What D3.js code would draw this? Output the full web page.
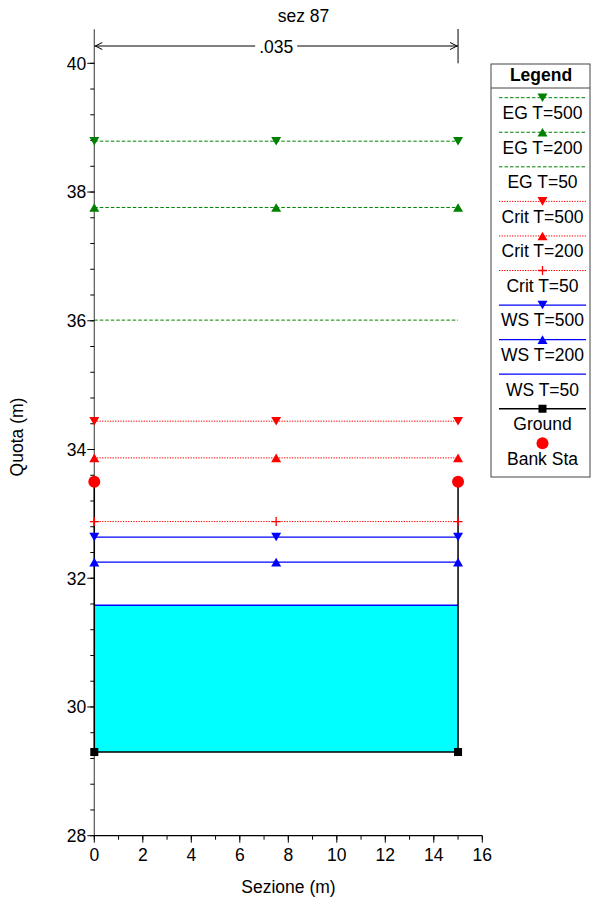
<!DOCTYPE html>
<html>
<head>
<meta charset="utf-8">
<script src="https://cdn.jsdelivr.net/npm/d3@7"></script>
<style>
  html, body { margin: 0; padding: 0; background: #fff; }
  svg { display: block; font-family: "Liberation Sans", Arial, sans-serif; }
</style>
</head>
<body>
<svg id="chart" width="591" height="901"></svg>
<script>
// ---- data ----
const title = "sez 87";
const xLabel = "Sezione (m)";
const yLabel = "Quota (m)";
const seriesNames = ["EG T=500", "EG T=200", "EG T=50", "Crit T=500", "Crit T=200", "Crit T=50", "WS T=500", "WS T=200", "WS T=50"];
const seriesElev  = [38.79, 37.76, 36.01, 34.44, 33.87, 32.88, 32.64, 32.25, 31.58];
const seriesKind  = ["EG", "EG", "EG", "Crit", "Crit", "Crit", "WS", "WS", "WS"];
const seriesMarker = ["down", "up", "none", "down", "up", "plus", "down", "up", "none"];
const lineStart = 0;
const lineEnd = 15;
const markerStations = [0, 7.5, 15];
const groundX = [0, 0, 15, 15];
const groundY = [33.50, 29.30, 29.30, 33.50];
const bankX = [0, 15];
const bankY = [33.50, 33.50];
const manningN = [".035"];
const manningFrom = [0];
const manningTo = [15];
const xTicks = [0, 2, 4, 6, 8, 10, 12, 14, 16];
const yTicks = [28, 30, 32, 34, 36, 38, 40];

// ---- styles ----
const kindStyle = {
  EG:   { color: "#008000", dash: "3.5,2", width: 1 },
  Crit: { color: "#ff0000", dash: "1.3,1.3", width: 1 },
  WS:   { color: "#0000ff", dash: null, width: 1.3 }
};

const svg = d3.select("#chart");
const x = d3.scaleLinear().domain([0, 16]).range([94.3, 482.3]);
const y = d3.scaleLinear().domain([28, 40]).range([835.7, 63.3]);
const FS = 17.5;

// water fill (WS T=50 over ground)
const wsLow = seriesElev[seriesNames.indexOf("WS T=50")];
const fillPts = [[groundX[1], wsLow], [groundX[2], wsLow], [groundX[2], groundY[2]], [groundX[1], groundY[1]]];
svg.append("path")
  .attr("d", d3.line().x(d => x(d[0])).y(d => y(d[1]))(fillPts) + "Z")
  .attr("fill", "#00ffff");

// axes
const gY = svg.append("g");
gY.append("line").attr("x1", x(0)).attr("x2", x(0)).attr("y1", y(28)).attr("y2", y(40.53))
  .attr("stroke", "#555").attr("stroke-width", 1.2);
const yMinor = d3.range(28, 40.01, 0.4);
gY.selectAll(".ym").data(yMinor).join("line")
  .attr("x1", x(0) - 4).attr("x2", x(0)).attr("y1", d => y(d)).attr("y2", d => y(d))
  .attr("stroke", "#000").attr("stroke-width", 1);
gY.selectAll(".yM").data(yTicks).join("line")
  .attr("x1", x(0) - 7).attr("x2", x(0)).attr("y1", d => y(d)).attr("y2", d => y(d))
  .attr("stroke", "#000").attr("stroke-width", 1);
gY.selectAll(".yl").data(yTicks).join("text")
  .attr("x", x(0) - 8).attr("y", d => y(d) + 6.4)
  .attr("text-anchor", "end").attr("font-size", FS).attr("fill", "#000")
  .text(d => d);

const gX = svg.append("g");
gX.append("line").attr("x1", x(0)).attr("x2", x(16)).attr("y1", y(28)).attr("y2", y(28))
  .attr("stroke", "#000").attr("stroke-width", 1.2);
gX.selectAll(".xm").data(d3.range(0, 16.01, 1)).join("line")
  .attr("x1", d => x(d)).attr("x2", d => x(d)).attr("y1", y(28)).attr("y2", y(28) + 4)
  .attr("stroke", "#000");
gX.selectAll(".xM").data(xTicks).join("line")
  .attr("x1", d => x(d)).attr("x2", d => x(d)).attr("y1", y(28)).attr("y2", y(28) + 7)
  .attr("stroke", "#000");
gX.selectAll(".xl").data(xTicks).join("text")
  .attr("x", d => x(d)).attr("y", 861)
  .attr("text-anchor", "middle").attr("font-size", FS).attr("fill", "#000")
  .text(d => d);

// labels
svg.append("text").attr("x", 288.5).attr("y", 893).attr("text-anchor", "middle")
  .attr("font-size", FS).text(xLabel);
svg.append("text").attr("transform", "translate(23,437) rotate(-90)").attr("text-anchor", "middle")
  .attr("font-size", FS).text(yLabel);
svg.append("text").attr("x", 303.5).attr("y", 21.5).attr("text-anchor", "middle")
  .attr("font-size", FS).text(title);

// Manning's n bracket
manningN.forEach((n, i) => {
  const x0 = x(manningFrom[i]), x1 = x(manningTo[i]);
  const yy = 46, xm = (x0 + x1) / 2;
  const g = svg.append("g").attr("stroke", "#000").attr("fill", "none").attr("stroke-width", 1);
  g.append("line").attr("x1", x1).attr("x2", x1).attr("y1", 29).attr("y2", y(40));
  g.append("line").attr("x1", x0).attr("x2", xm - 21).attr("y1", yy).attr("y2", yy);
  g.append("line").attr("x1", xm + 21).attr("x2", x1).attr("y1", yy).attr("y2", yy);
  g.append("path").attr("d", `M${x0 + 8},${yy - 3.5}L${x0 + 1},${yy}L${x0 + 8},${yy + 3.5}`);
  g.append("path").attr("d", `M${x1 - 8},${yy - 3.5}L${x1 - 1},${yy}L${x1 - 8},${yy + 3.5}`);
  svg.append("text").attr("x", xm).attr("y", 52.5).attr("text-anchor", "middle")
    .attr("font-size", FS).text(n);
});

// marker drawing
function drawMarker(g, type, cx, cy, color) {
  if (type === "down") {
    g.append("path").attr("d", `M${cx - 5},${cy - 4.3}L${cx + 5},${cy - 4.3}L${cx},${cy + 4.3}Z`).attr("fill", color);
  } else if (type === "up") {
    g.append("path").attr("d", `M${cx - 5},${cy + 4.3}L${cx + 5},${cy + 4.3}L${cx},${cy - 4.3}Z`).attr("fill", color);
  } else if (type === "plus") {
    g.append("path").attr("d", `M${cx - 4.5},${cy}L${cx + 4.5},${cy}M${cx},${cy - 4.5}L${cx},${cy + 4.5}`)
      .attr("stroke", color).attr("stroke-width", 1.3).attr("fill", "none");
  } else if (type === "square") {
    g.append("rect").attr("x", cx - 4).attr("y", cy - 4).attr("width", 8).attr("height", 8).attr("fill", color);
  } else if (type === "circle") {
    g.append("circle").attr("cx", cx).attr("cy", cy).attr("r", 6).attr("fill", color);
  }
}

// series lines
const gS = svg.append("g");
seriesNames.forEach((name, i) => {
  const st = kindStyle[seriesKind[i]];
  const ln = gS.append("line")
    .attr("x1", x(lineStart)).attr("x2", x(lineEnd))
    .attr("y1", y(seriesElev[i])).attr("y2", y(seriesElev[i]))
    .attr("stroke", st.color).attr("stroke-width", st.width);
  if (st.dash) ln.attr("stroke-dasharray", st.dash);
});

// ground
svg.append("path")
  .attr("d", d3.line().x(d => x(d[0])).y(d => y(d[1]))(groundX.map((v, i) => [v, groundY[i]])))
  .attr("fill", "none").attr("stroke", "#000").attr("stroke-width", 1.5);

// markers
const gM = svg.append("g");
seriesNames.forEach((name, i) => {
  if (seriesMarker[i] === "none") return;
  markerStations.forEach(s => drawMarker(gM, seriesMarker[i], x(s), y(seriesElev[i]), kindStyle[seriesKind[i]].color));
});
groundX.forEach((v, i) => drawMarker(gM, "square", x(v), y(groundY[i]), "#000"));
bankX.forEach((v, i) => drawMarker(gM, "circle", x(v), y(bankY[i]), "#ff0000"));

// legend
const L = svg.append("g");
L.append("rect").attr("x", 491).attr("y", 64).attr("width", 99).attr("height", 413)
  .attr("fill", "#fff").attr("stroke", "#444").attr("stroke-width", 1);
L.append("line").attr("x1", 491).attr("x2", 590).attr("y1", 88).attr("y2", 88).attr("stroke", "#444");
L.append("text").attr("x", 541).attr("y", 80.5).attr("text-anchor", "middle")
  .attr("font-size", FS).attr("font-weight", "bold").text("Legend");
const legNames = seriesNames.concat(["Ground", "Bank Sta"]);
legNames.forEach((name, i) => {
  const ly = 97.7 + i * 34.56;
  const cx = 542.5;
  if (i < seriesNames.length) {
    const st = kindStyle[seriesKind[i]];
    const ln = L.append("line").attr("x1", 499).attr("x2", 586).attr("y1", ly).attr("y2", ly)
      .attr("stroke", st.color).attr("stroke-width", st.width);
    if (st.dash) ln.attr("stroke-dasharray", st.dash);
    if (seriesMarker[i] !== "none") drawMarker(L, seriesMarker[i], cx, ly, st.color);
  } else if (name === "Ground") {
    L.append("line").attr("x1", 499).attr("x2", 586).attr("y1", ly).attr("y2", ly)
      .attr("stroke", "#000").attr("stroke-width", 1.5);
    drawMarker(L, "square", cx, ly, "#000");
  } else {
    drawMarker(L, "circle", cx, ly, "#ff0000");
  }
  L.append("text").attr("x", cx).attr("y", ly + 21.4).attr("text-anchor", "middle")
    .attr("font-size", FS).text(name);
});
</script>
</body>
</html>
